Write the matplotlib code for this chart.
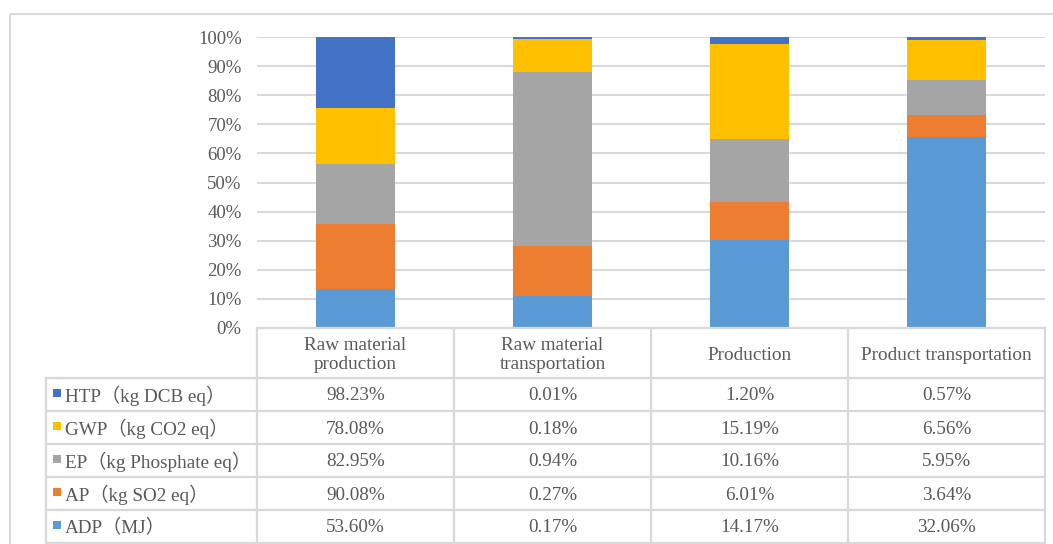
import numpy as np
import matplotlib
matplotlib.use("Agg")
import matplotlib.pyplot as plt
from matplotlib.patches import Rectangle

# ---- data ----
stages = ["Raw material\nproduction", "Raw material\ntransportation", "Production", "Product transportation"]
series_names = ["ADP（MJ）", "AP（kg SO2 eq）", "EP（kg Phosphate eq）", "GWP（kg CO2 eq）", "HTP（kg DCB eq）"]
ADP = [53.60, 0.17, 14.17, 32.06]
AP = [90.08, 0.27, 6.01, 3.64]
EP = [82.95, 0.94, 10.16, 5.95]
GWP = [78.08, 0.18, 15.19, 6.56]
HTP = [98.23, 0.01, 1.20, 0.57]
colors = ["#5B9BD5", "#ED7D31", "#A5A5A5", "#FFC000", "#4472C4"]
yticks = [0, 10, 20, 30, 40, 50, 60, 70, 80, 90, 100]

W, H = 1053, 544
fig = plt.figure(figsize=(W / 100, H / 100), dpi=100)
serif = ["Liberation Serif", "Noto Sans CJK SC", "DejaVu Sans"]
txtc = "#595959"
gridc = "#D9D9D9"
fs = 13.8

# pixel geometry
ax_l, ax_r, ax_t, ax_b = 257, 1045, 37, 328
ax = fig.add_axes([ax_l / W, 1 - ax_b / H, (ax_r - ax_l) / W, (ax_b - ax_t) / H])

series = [ADP, AP, EP, GWP, HTP]
arr = np.array(series, dtype=float)
pct = arr / arr.sum(axis=0) * 100
x = np.arange(len(stages))
bottom = np.zeros(len(stages))
for vals, c in zip(pct, colors):
    ax.bar(x, vals, width=0.4, bottom=bottom, color=c, zorder=3)
    bottom += vals

ax.set_xlim(-0.5, len(stages) - 0.5)
ax.set_ylim(0, 100)
ax.set_yticks(yticks)
ax.set_yticklabels([f"{t}%" for t in yticks], fontfamily=serif, fontsize=13.5, color=txtc)
ax.set_xticks([])
ax.tick_params(axis="y", length=0, pad=11)
for s in ax.spines.values():
    s.set_visible(False)
ax.yaxis.grid(True, color=gridc, linewidth=1.5, zorder=0)
ax.set_axisbelow(True)

# ---- overlay for table and border ----
ov = fig.add_axes([0, 0, 1, 1], zorder=-1)
ov.set_xlim(0, W)
ov.set_ylim(H, 0)
ov.axis("off")
ov2 = fig.add_axes([0, 0, 1, 1], zorder=5)
ov2.set_xlim(0, W)
ov2.set_ylim(H, 0)
ov2.axis("off")
ov2.patch.set_alpha(0)

# outer frame
ov.add_patch(Rectangle((10, 14), 1060, 560, fill=False, edgecolor="#D9D9D9", linewidth=1.5))

col_edges = [ax_l + i * (ax_r - ax_l) / 4 for i in range(5)]
lab_l = 46
hdr_b = 378
row_edges = [378, 411, 444, 477, 510, 543]
lc = "#D9D9D9"
lw = 1.6

# header row lines
ov2.plot([ax_l, ax_r], [ax_b, ax_b], color=lc, lw=lw)
for xe in col_edges:
    ov2.plot([xe, xe], [ax_b, row_edges[-1]], color=lc, lw=lw)
for ye in row_edges:
    ov2.plot([lab_l, ax_r], [ye, ye], color=lc, lw=lw)
ov2.plot([lab_l, lab_l], [row_edges[0], row_edges[-1]], color=lc, lw=lw)

# header texts
for i, st in enumerate(stages):
    cx = (col_edges[i] + col_edges[i + 1]) / 2
    ov2.text(cx, (ax_b + hdr_b) / 2 + 2, st, ha="center", va="center", fontsize=fs,
             family=serif, color=txtc, linespacing=1.22)

# rows: top to bottom HTP, GWP, EP, AP, ADP
order = [4, 3, 2, 1, 0]
for r, si in enumerate(order):
    y0, y1 = row_edges[r], row_edges[r + 1]
    cy = (y0 + y1) / 2 + 1.5
    ov2.add_patch(Rectangle((53, cy - 7), 8, 8, color=colors[si], lw=0))
    ov2.text(65, cy, series_names[si], ha="left", va="center", fontsize=fs,
             family=serif, color=txtc)
    for i in range(len(stages)):
        cx = (col_edges[i] + col_edges[i + 1]) / 2
        ov2.text(cx, cy, f"{series[si][i]:.2f}%", ha="center", va="center", fontsize=fs,
                 family=serif, color=txtc)

fig.savefig("out.png", dpi=100)
